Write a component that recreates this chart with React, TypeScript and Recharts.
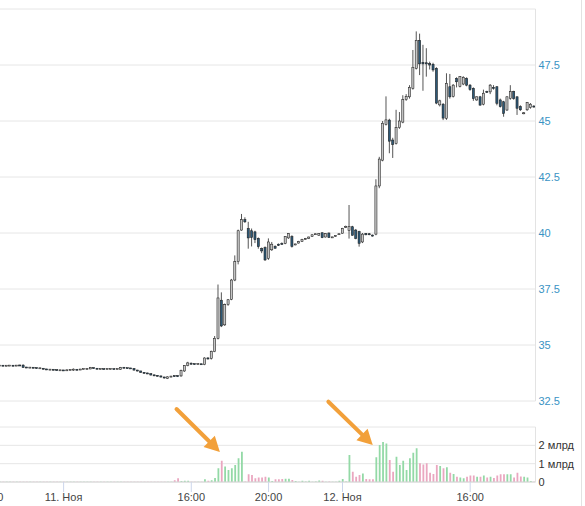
import React from "react";
import { ComposedChart, Bar, XAxis, YAxis, CartesianGrid, ReferenceLine, Cell } from "recharts";

// 10-minute candles; index -2 is the first (partly cut) candle at the left edge
const FIRST_INDEX = -2;

const opens = [
  34.08, 34.08, 34.07, 34.08, 34.08, 34.07, 34.09, 34.1, 34.0, 33.99, 33.99, 33.98,
  33.96, 33.96, 33.92, 33.9, 33.9, 33.89, 33.87, 33.87, 33.86, 33.88,
  33.9, 33.9, 33.89, 33.92, 33.93, 33.93, 33.98, 33.95, 33.93, 33.93,
  33.92, 33.93, 33.93, 33.92, 33.9, 34.0, 33.97, 33.96, 33.95, 33.88,
  33.84, 33.78, 33.74, 33.72, 33.66, 33.63, 33.62, 33.57, 33.5, 33.58,
  33.62, 33.63, 33.62, 33.84, 34.08, 34.18, 34.15, 34.14, 34.15, 34.12,
  34.42, 34.4, 34.7, 35.3, 37.0, 35.9, 36.8, 37.04, 37.9, 38.72,
  40.13, 40.6, 40.2, 40.1, 40.05, 39.76, 39.3, 39.35, 38.87, 39.25,
  39.4, 39.5, 39.52, 39.54, 39.78, 39.84, 39.48, 39.55, 39.62, 39.72,
  39.75, 39.85, 39.94, 39.9, 40.01, 39.82, 40.0, 39.8, 39.85, 39.94,
  39.99, 40.25, 40.12, 40.28, 40.13, 40.06, 39.6, 39.98, 39.96, 39.9,
  39.95, 42.1, 43.25, 44.85, 45.04, 44.15, 44.0, 44.7, 44.95, 45.95,
  46.08, 46.46, 47.35, 48.6, 47.62, 47.6, 47.56, 47.53, 47.35, 45.72,
  45.75, 45.12, 46.53, 46.1, 46.9, 46.55, 46.65, 46.9, 46.6, 46.46,
  45.94, 46.08, 45.75, 46.32, 46.3, 46.5, 46.53, 45.94, 45.86, 45.49,
  46.01, 46.31, 46.08, 45.64, 45.33, 45.5, 45.6, 45.65,
];

const highs = [
  34.1, 34.1, 34.09, 34.1, 34.1, 34.1, 34.12, 34.14, 34.02, 34.01, 34.0, 33.99,
  33.98, 33.97, 33.93, 33.92, 33.91, 33.9, 33.89, 33.88, 33.9, 33.92,
  33.95, 33.91, 33.93, 33.94, 33.95, 34.02, 34.0, 33.96, 33.95, 33.94,
  33.95, 33.95, 33.94, 33.95, 34.02, 34.01, 33.98, 33.97, 33.96, 33.89,
  33.85, 33.79, 33.76, 33.73, 33.68, 33.65, 33.63, 33.58, 33.6, 33.62,
  33.64, 33.65, 33.9, 34.1, 34.25, 34.22, 34.17, 34.17, 34.16, 34.45,
  34.45, 34.75, 35.4, 37.7, 37.35, 36.85, 37.05, 37.95, 39.0, 40.15,
  40.85, 40.7, 40.5, 40.2, 40.1, 39.8, 39.35, 39.4, 39.76, 39.6,
  39.45, 39.53, 39.58, 39.86, 40.0, 39.9, 39.52, 39.65, 39.74, 39.78,
  39.84, 39.94, 39.97, 40.0, 40.03, 40.0, 40.02, 39.83, 39.9, 39.97,
  40.23, 40.33, 41.25, 40.32, 40.18, 40.1, 40.0, 40.0, 40.0, 39.93,
  42.4, 43.4, 45.0, 46.1, 45.1, 44.25, 45.5, 45.4, 46.15, 46.2,
  46.6, 48.17, 49.0, 48.9, 48.4, 48.25, 47.65, 47.6, 47.4, 45.95,
  45.8, 47.13, 47.1, 46.65, 46.95, 47.0, 47.0, 46.95, 46.65, 46.5,
  46.1, 46.12, 46.4, 46.35, 46.65, 46.6, 46.55, 46.0, 45.9, 46.1,
  46.6, 46.35, 46.1, 45.7, 45.4, 45.85, 45.8, 45.7,
];

const lows = [
  34.06, 34.06, 34.05, 34.06, 34.05, 34.06, 34.07, 33.98, 33.97, 33.97, 33.96, 33.94,
  33.94, 33.91, 33.88, 33.88, 33.87, 33.85, 33.85, 33.84, 33.85, 33.87,
  33.85, 33.87, 33.88, 33.91, 33.91, 33.92, 33.94, 33.92, 33.91, 33.9,
  33.91, 33.91, 33.9, 33.91, 33.89, 33.96, 33.94, 33.93, 33.86, 33.82,
  33.76, 33.72, 33.7, 33.64, 33.61, 33.6, 33.55, 33.5, 33.48, 33.56,
  33.58, 33.57, 33.58, 33.8, 34.05, 34.12, 34.12, 34.12, 34.12, 34.1,
  34.35, 34.35, 34.68, 35.25, 35.8, 35.85, 36.75, 37.0, 37.85, 38.6,
  40.1, 40.45, 39.3, 39.4, 39.55, 39.3, 39.1, 38.75, 38.8, 39.2,
  39.3, 39.42, 39.48, 39.5, 39.74, 39.35, 39.45, 39.53, 39.6, 39.7,
  39.73, 39.83, 39.92, 39.88, 39.77, 39.8, 39.78, 39.78, 39.83, 39.92,
  39.97, 40.22, 39.75, 39.88, 39.72, 39.39, 39.55, 39.9, 39.9, 39.84,
  39.9, 42.0, 43.2, 44.8, 43.56, 43.35, 43.95, 44.65, 44.9, 45.9,
  46.0, 46.4, 47.3, 47.05, 46.35, 46.98, 47.3, 47.2, 45.75, 45.65,
  45.04, 45.05, 46.0, 46.05, 46.5, 46.5, 46.6, 46.55, 46.35, 45.9,
  45.9, 45.68, 45.7, 46.25, 46.2, 46.4, 45.7, 45.6, 45.19, 45.45,
  45.95, 45.95, 45.27, 45.45, 45.3, 45.45, 45.55, 45.6,
];

const closes = [
  34.08, 34.07, 34.08, 34.08, 34.07, 34.09, 34.08, 34.0, 33.99, 33.99, 33.98, 33.96,
  33.96, 33.92, 33.9, 33.9, 33.89, 33.87, 33.87, 33.86, 33.88, 33.9,
  33.9, 33.89, 33.92, 33.93, 33.93, 34.0, 33.95, 33.93, 33.93, 33.92,
  33.93, 33.93, 33.92, 33.93, 34.0, 33.97, 33.96, 33.95, 33.88, 33.84,
  33.78, 33.74, 33.72, 33.66, 33.63, 33.62, 33.57, 33.53, 33.58, 33.6,
  33.6, 33.59, 33.86, 34.08, 34.2, 34.15, 34.14, 34.15, 34.13, 34.42,
  34.38, 34.72, 35.3, 37.1, 35.85, 36.8, 37.02, 37.9, 38.72, 40.1,
  40.6, 40.5, 39.78, 39.8, 39.7, 39.39, 39.2, 38.8, 39.6, 39.5,
  39.32, 39.45, 39.5, 39.84, 39.98, 39.4, 39.5, 39.62, 39.72, 39.73,
  39.82, 39.92, 39.95, 39.98, 39.79, 39.98, 39.8, 39.81, 39.88, 39.95,
  40.21, 40.3, 40.3, 39.9, 39.76, 39.54, 39.95, 39.92, 39.93, 39.87,
  42.1, 43.3, 44.9, 45.05, 44.1, 43.95, 44.7, 45.0, 45.95, 46.1,
  46.5, 47.4, 48.6, 47.55, 47.55, 47.55, 47.5, 47.28, 45.8, 45.9,
  45.13, 46.68, 46.08, 46.6, 46.75, 46.98, 46.95, 46.6, 46.4, 46.0,
  46.08, 45.71, 46.24, 46.28, 46.6, 46.45, 45.79, 45.64, 45.34, 46.08,
  46.31, 46.0, 45.57, 45.5, 45.36, 45.83, 45.75, 45.64,
];

// volume, млрд
const volumes = [
  0.01, 0.01, 0.01, 0.01, 0.01, 0.01, 0.01, 0.02, 0.01, 0.01, 0.01, 0.01,
  0.01, 0.01, 0.01, 0.01, 0.01, 0.01, 0.01, 0.01, 0.01, 0.01,
  0.01, 0.01, 0.01, 0.01, 0.01, 0.02, 0.01, 0.01, 0.01, 0.01,
  0.01, 0.01, 0.01, 0.01, 0.02, 0.01, 0.01, 0.01, 0.01, 0.01,
  0.01, 0.01, 0.01, 0.01, 0.01, 0.01, 0.01, 0.02, 0.02, 0.02,
  0.1, 0.2, 0.05, 0.07, 0.07, 0.02, 0.02, 0.02, 0.02, 0.15,
  0.07, 0.1, 0.22, 0.75, 1.16, 0.84, 0.65, 0.75, 0.93, 1.29,
  1.65, 0.03, 0.42, 0.38, 0.2, 0.24, 0.25, 0.29, 0.25, 0.05,
  0.15, 0.15, 0.16, 0.18, 0.18, 0.11, 0.06, 0.02, 0.07, 0.03,
  0.07, 0.02, 0.03, 0.08, 0.07, 0.02, 0.03, 0.02, 0.02, 0.07,
  0.16, 0.03, 1.47, 0.56, 0.29, 0.38, 0.47, 0.16, 0.15, 0.15,
  1.35, 2.02, 2.18, 2.1, 1.2, 0.56, 1.38, 0.93, 1.16, 0.65,
  1.29, 1.6, 1.84, 1.02, 0.96, 1.02, 0.51, 0.44, 0.93, 0.87,
  0.75, 0.8, 0.51, 0.44, 0.29, 0.25, 0.2, 0.29, 0.35, 0.35,
  0.29, 0.29, 0.35, 0.24, 0.29, 0.22, 0.35, 0.42, 0.42, 0.42,
  0.42, 0.25, 0.51, 0.3, 0.28, 0.25, 0.05, 0.02,
];

const priceTicks = [32.5, 35, 37.5, 40, 42.5, 45, 47.5, 50];
const volumeTicks = [0, 1, 2, 3];
const timeTickIndex = [-5, 17, 55, 78, 100, 138];
const timeTickLabels = ["20:00", "11. Ноя", "16:00", "20:00", "12. Ноя", "16:00"];

// annotation arrows (candle index, volume in млрд)
const arrowFrom = [
  { i: 50.6, v: 3.98 },
  { i: 95.8, v: 4.38 },
];
const arrowTo = [
  { i: 63.5, v: 1.64 },
  { i: 109, v: 2.02 },
];

const X_DOMAIN: [number, number] = [-10.86, 157.44];

const data = opens.map((o, k) => ({
  i: FIRST_INDEX + k,
  open: o,
  high: highs[k],
  low: lows[k],
  close: closes[k],
  range: [lows[k], highs[k]],
  vol: volumes[k],
}));

const UP_FILL = "#c6c6c6";
const DOWN_FILL = "#2d5876";
const VOL_UP = "#93d9a6";
const VOL_DOWN = "#eaa7c0";
const ORANGE = "#f2a03a";
const FONT = "'Liberation Sans', Arial, sans-serif";

const Candle = (props: any) => {
  const { x, y, width, height, payload } = props;
  if (!payload || x == null || y == null) return null;
  const { open, close, high, low } = payload;
  const cx = x + width / 2;
  const h = Math.abs(height);
  const top0 = height >= 0 ? y : y + height;
  const k = high > low ? h / (high - low) : 0;
  const yOf = (p: number) => top0 + (high - p) * k;
  const bTop = yOf(Math.max(open, close));
  const bBot = yOf(Math.min(open, close));
  const bh = Math.max(bBot - bTop, 1);
  const up = close >= open;
  const bw = 2.1;
  return (
    <g>
      <line x1={cx} x2={cx} y1={top0} y2={top0 + h} stroke="#2a2a2a" strokeWidth={0.8} />
      <rect
        x={cx - bw / 2}
        y={bTop - (bh - (bBot - bTop)) / 2}
        width={bw}
        height={bh}
        fill={up ? UP_FILL : DOWN_FILL}
        stroke="#1e1e1e"
        strokeWidth={0.55}
      />
    </g>
  );
};

const ArrowShape = (p: any) => {
  const { x1, y1, x2, y2 } = p;
  if ([x1, y1, x2, y2].some((v) => v == null || isNaN(v))) return <g />;
  const dx = x2 - x1;
  const dy = y2 - y1;
  const len = Math.hypot(dx, dy) || 1;
  const ux = dx / len;
  const uy = dy / len;
  const head = 15;
  const hw = 8;
  const bx = x2 - ux * head;
  const by = y2 - uy * head;
  const pts = `${x2},${y2} ${bx - uy * hw},${by + ux * hw} ${bx + uy * hw},${by - ux * hw}`;
  return (
    <g>
      <line x1={x1} y1={y1} x2={bx + ux * 2} y2={by + uy * 2} stroke={ORANGE} strokeWidth={4} strokeLinecap="round" />
      <polygon points={pts} fill={ORANGE} />
    </g>
  );
};

const timeLabel = (v: number) => {
  const idx = timeTickIndex.indexOf(v);
  return idx >= 0 ? timeTickLabels[idx] : "";
};

export default function App() {
  return (
    <div
      style={{
        position: "absolute",
        left: 0,
        top: 0,
        width: 585,
        height: 506,
        overflow: "hidden",
        background: "#fff",
        fontFamily: FONT,
      }}
    >
      <div style={{ position: "absolute", left: -30, top: 0 }}>
        <ComposedChart width={615} height={420} data={data} margin={{ top: 9, right: 0, bottom: 19, left: 0 }}>
          <CartesianGrid vertical={false} stroke="#e6e6e6" />
          <XAxis dataKey="i" type="number" domain={X_DOMAIN} allowDataOverflow hide />
          <YAxis
            orientation="right"
            domain={[32.5, 50]}
            ticks={priceTicks}
            interval={0}
            allowDataOverflow
            width={49.5}
            tickSize={0}
            tickMargin={3}
            tickLine={false}
            axisLine={{ stroke: "#e3e3e3" }}
            tick={{ fill: "#3a93c4", fontSize: 11, fontFamily: FONT }}
            tickFormatter={(v: number) => (v === 50 ? "" : String(v))}
          />
          <Bar dataKey="range" shape={<Candle />} barSize={3} isAnimationActive={false} />
        </ComposedChart>
      </div>
      <div style={{ position: "absolute", left: -30, top: 395 }}>
        <ComposedChart width={615} height={111} data={data} margin={{ top: 32, right: 0, bottom: 0, left: 0 }}>
          <CartesianGrid vertical={false} stroke="#e6e6e6" />
          <XAxis
            dataKey="i"
            type="number"
            domain={X_DOMAIN}
            allowDataOverflow
            ticks={timeTickIndex}
            interval={0}
            height={24}
            tickSize={10}
            tickMargin={1}
            tickLine={{ stroke: "#ccd6eb" }}
            axisLine={{ stroke: "#d6d6d6" }}
            tick={{ fill: "#444", fontSize: 11, fontFamily: FONT }}
            tickFormatter={timeLabel}
          />
          <YAxis
            orientation="right"
            domain={[0, 3]}
            ticks={volumeTicks}
            interval={0}
            allowDataOverflow
            width={49.5}
            tickSize={0}
            tickMargin={3}
            tickLine={false}
            axisLine={{ stroke: "#e3e3e3" }}
            tick={{ fill: "#333", fontSize: 11, fontFamily: FONT }}
            tickFormatter={(v: number) => (v === 0 ? "0" : v === 3 ? "" : `${v} млрд`)}
          />
          <Bar dataKey="vol" barSize={1.8} isAnimationActive={false}>
            {data.map((d) => (
              <Cell key={d.i} fill={d.close >= d.open ? VOL_UP : VOL_DOWN} />
            ))}
          </Bar>
          {arrowFrom.map((a, k) => (
            <ReferenceLine
              key={k}
              segment={[
                { x: a.i, y: a.v },
                { x: arrowTo[k].i, y: arrowTo[k].v },
              ]}
              ifOverflow="visible"
              shape={ArrowShape}
            />
          ))}
        </ComposedChart>
      </div>
      <div style={{ position: "absolute", left: 581, top: 0, width: 1, height: 506, background: "#e2e2e2" }} />
    </div>
  );
}
